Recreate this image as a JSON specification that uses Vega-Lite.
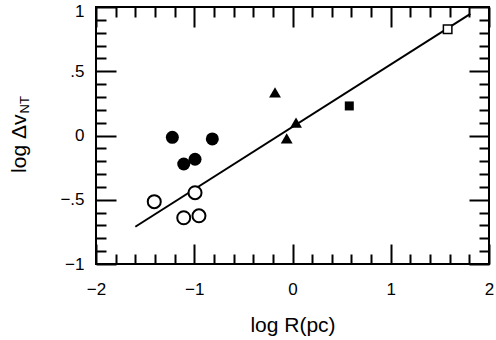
{
  "$schema": "https://vega.github.io/schema/vega-lite/v6.json",
  "width": 393,
  "height": 257,
  "autosize": "none",
  "padding": {"left": 96, "top": 7, "right": 7, "bottom": 76},
  "background": "white",
  "config": {
    "view": {"stroke": "black", "strokeWidth": 2},
    "font": "Liberation Sans",
    "axis": {
      "domain": false,
      "grid": false,
      "tickColor": "black",
      "tickWidth": 2,
      "labelColor": "black",
      "labelFont": "Liberation Sans",
      "labelFontSize": 17,
      "titleColor": "black",
      "titleFont": "Liberation Sans",
      "titleFontWeight": "normal"
    }
  },
  "datasets": {
    "fit": [
      {"logR": -1.6, "logdv": -0.71},
      {"logR": 1.81, "logdv": 0.946}
    ],
    "pts": [
      {"logR": -1.223, "logdv": -0.014, "kind": "filled circle"},
      {"logR": -0.816, "logdv": -0.027, "kind": "filled circle"},
      {"logR": -1.107, "logdv": -0.222, "kind": "filled circle"},
      {"logR": -0.992, "logdv": -0.185, "kind": "filled circle"},
      {"logR": -1.407, "logdv": -0.515, "kind": "open circle"},
      {"logR": -0.992, "logdv": -0.445, "kind": "open circle"},
      {"logR": -1.107, "logdv": -0.64, "kind": "open circle"},
      {"logR": -0.952, "logdv": -0.625, "kind": "open circle"},
      {"logR": -0.178, "logdv": 0.335, "kind": "filled triangle"},
      {"logR": -0.059, "logdv": -0.022, "kind": "filled triangle"},
      {"logR": 0.036, "logdv": 0.1, "kind": "filled triangle"},
      {"logR": 0.578, "logdv": 0.23, "kind": "filled square"},
      {"logR": 1.579, "logdv": 0.826, "kind": "open square"}
    ]
  },
  "resolve": {"axis": {"x": "independent", "y": "independent"}},
  "layer": [
    {
      "data": {"name": "fit"},
      "mark": {"type": "line", "color": "black", "strokeWidth": 2},
      "encoding": {
        "x": {
          "field": "logR", "type": "quantitative",
          "scale": {"domain": [-2, 2], "nice": false, "zero": false},
          "axis": {
            "orient": "bottom",
            "values": [-2, -1.8, -1.6, -1.4, -1.2, -1, -0.8, -0.6, -0.4, -0.2, 0, 0.2, 0.4, 0.6, 0.8, 1, 1.2, 1.4, 1.6, 1.8, 2],
            "tickSize": {"condition": {"test": "abs(datum.value - round(datum.value)) < 0.001", "value": -20}, "value": -10},
            "labelExpr": "abs(datum.value - round(datum.value)) < 0.001 ? replace(format(datum.value, 'd'), '-', '−') : ''",
            "labelPadding": 37,
            "labelFlush": false,
            "title": "log R(pc)",
            "titleFontSize": 21,
            "titleAlign": "center",
            "titleBaseline": "alphabetic",
            "titleX": 196.5,
            "titleY": 67
          }
        },
        "y": {
          "field": "logdv", "type": "quantitative",
          "scale": {"domain": [-1, 1], "nice": false, "zero": false},
          "axis": {
            "orient": "left",
            "values": [-1, -0.9, -0.8, -0.7, -0.6, -0.5, -0.4, -0.3, -0.2, -0.1, 0, 0.1, 0.2, 0.3, 0.4, 0.5, 0.6, 0.7, 0.8, 0.9, 1],
            "tickSize": {"condition": {"test": "abs(datum.value * 2 - round(datum.value * 2)) < 0.001", "value": -20}, "value": -10},
            "labelExpr": "datum.value == 1 ? '1' : datum.value == 0.5 ? '.5' : datum.value == 0 ? '0' : datum.value == -0.5 ? '−.5' : datum.value == -1 ? '−1' : ''",
            "labelOffset": {"condition": {"test": "datum.value == 1", "value": 4}, "value": 0},
            "labelPadding": 32,
            "labelFlush": false,
            "title": "log Δv",
            "titleFontSize": 21,
            "titleAngle": -90,
            "titleAlign": "right",
            "titleBaseline": "alphabetic",
            "titleX": -71,
            "titleY": 107
          }
        }
      }
    },
    {
      "data": {"name": "pts"},
      "mark": {"type": "point", "filled": true, "opacity": 1, "stroke": "black"},
      "encoding": {
        "x": {
          "field": "logR", "type": "quantitative",
          "scale": {"domain": [-2, 2], "nice": false, "zero": false},
          "axis": {
            "orient": "top",
            "values": [-2, -1.8, -1.6, -1.4, -1.2, -1, -0.8, -0.6, -0.4, -0.2, 0, 0.2, 0.4, 0.6, 0.8, 1, 1.2, 1.4, 1.6, 1.8, 2],
            "tickSize": {"condition": {"test": "abs(datum.value - round(datum.value)) < 0.001", "value": -20}, "value": -10},
            "labels": false,
            "title": null
          }
        },
        "y": {
          "field": "logdv", "type": "quantitative",
          "scale": {"domain": [-1, 1], "nice": false, "zero": false},
          "axis": {
            "orient": "right",
            "values": [-1, -0.9, -0.8, -0.7, -0.6, -0.5, -0.4, -0.3, -0.2, -0.1, 0, 0.1, 0.2, 0.3, 0.4, 0.5, 0.6, 0.7, 0.8, 0.9, 1],
            "tickSize": {"condition": {"test": "abs(datum.value * 2 - round(datum.value * 2)) < 0.001", "value": -20}, "value": -10},
            "labels": false,
            "title": "NT",
            "titleFontSize": 13,
            "titleAngle": -90,
            "titleAlign": "left",
            "titleBaseline": "alphabetic",
            "titleX": -461,
            "titleY": 106
          }
        },
        "shape": {
          "field": "kind", "type": "nominal", "legend": null,
          "scale": {
            "domain": ["filled circle", "open circle", "filled triangle", "filled square", "open square"],
            "range": ["circle", "circle", "triangle-up", "square", "square"]
          }
        },
        "fill": {
          "field": "kind", "type": "nominal", "legend": null,
          "scale": {
            "domain": ["filled circle", "open circle", "filled triangle", "filled square", "open square"],
            "range": ["black", "white", "black", "black", "white"]
          }
        },
        "size": {
          "field": "kind", "type": "nominal", "legend": null,
          "scale": {
            "type": "ordinal",
            "domain": ["filled circle", "open circle", "filled triangle", "filled square", "open square"],
            "range": [169, 169, 140, 81, 72]
          }
        },
        "strokeWidth": {
          "field": "kind", "type": "nominal", "legend": null,
          "scale": {
            "type": "ordinal",
            "domain": ["filled circle", "open circle", "filled triangle", "filled square", "open square"],
            "range": [0, 2, 0, 0, 1.5]
          }
        }
      }
    }
  ]
}
